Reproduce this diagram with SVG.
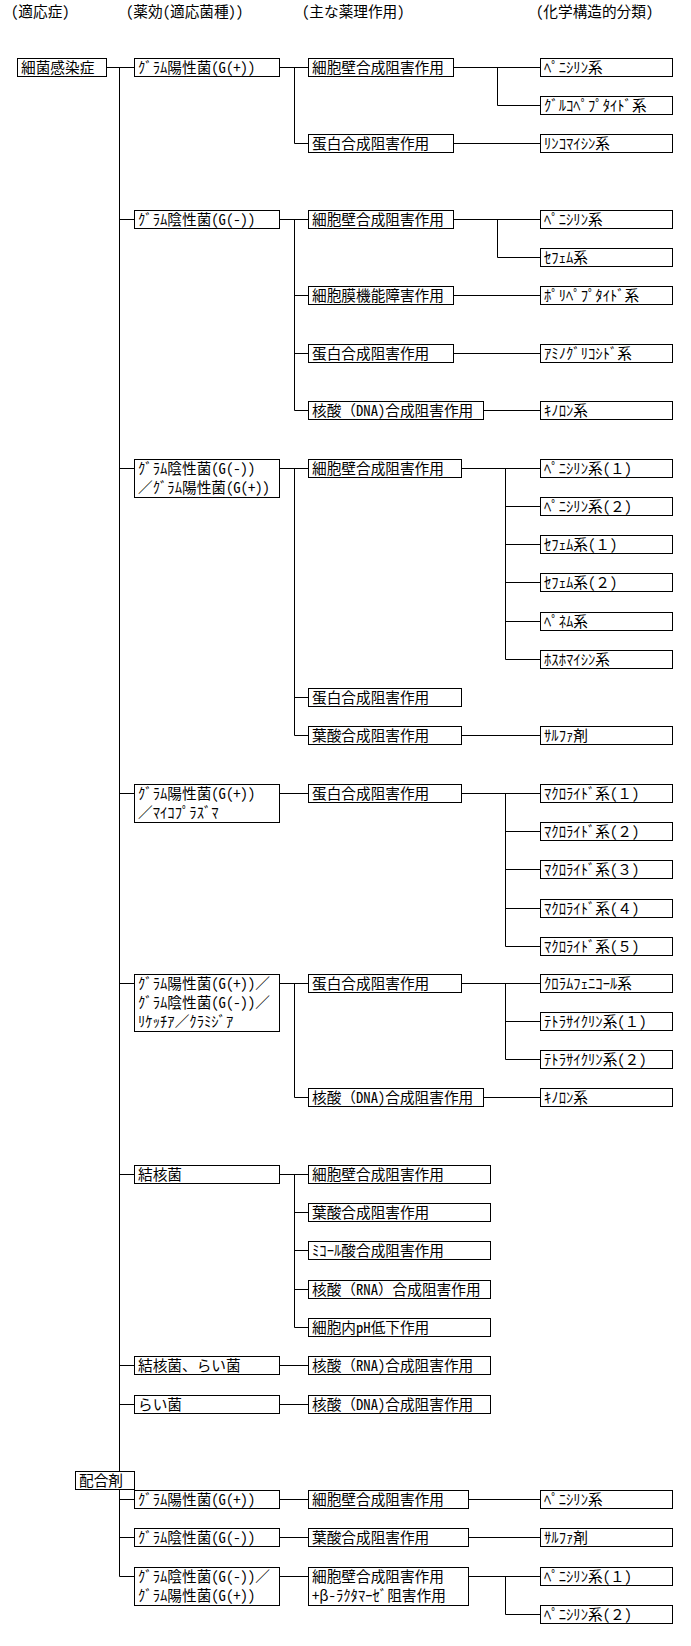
<svg xmlns="http://www.w3.org/2000/svg" width="691" height="1646" viewBox="0 0 691 1646">
<style>
.b{fill:#fff;stroke:#000;stroke-width:1}
.t{font-family:"Noto Sans Mono CJK JP","Noto Sans CJK JP","DejaVu Sans",sans-serif;font-size:14.67px;fill:#000}
.c{fill:none;stroke:#000;stroke-width:1}
</style>
<rect width="691" height="1646" fill="#fff"/>
<g id="headers" class="t">
<text x="11" y="17">(適応症)</text>
<text x="126" y="17">(薬効(適応菌種))</text>
<text x="302" y="17">(主な薬理作用)</text>
<text x="536" y="17">(化学構造的分類)</text>
</g>
<g id="connectors" class="c">
<path d="M106.5 67.5H134.5M119.5 67.5V1576.5M119.5 219.5H134.5M119.5 468.5H134.5M119.5 793.5H134.5M119.5 983.5H134.5M119.5 1174.5H134.5M119.5 1365.5H134.5M119.5 1404.5H134.5M119.5 1499.5H134.5M119.5 1537.5H134.5M119.5 1576.5H134.5"/>
<path d="M279.5 67.5H308.5M279.5 219.5H308.5M279.5 468.5H308.5M279.5 793.5H308.5M279.5 983.5H308.5M279.5 1174.5H308.5M279.5 1365.5H308.5M279.5 1404.5H308.5M279.5 1499.5H308.5M279.5 1537.5H308.5M279.5 1576.5H308.5"/>
<path d="M294.5 67.5V143.5H308.5M294.5 219.5V410.5H308.5M294.5 295.5H308.5M294.5 353.5H308.5M294.5 468.5V735.5H308.5M294.5 697.5H308.5M294.5 983.5V1097.5H308.5M294.5 1174.5V1327.5H308.5M294.5 1212.5H308.5M294.5 1250.5H308.5M294.5 1289.5H308.5"/>
<path d="M453.5 67.5H540.5M497.5 67.5V105.5H540.5M453.5 143.5H540.5"/>
<path d="M453.5 219.5H540.5M497.5 219.5V257.5H540.5M453.5 295.5H540.5M453.5 353.5H540.5M483.5 410.5H540.5"/>
<path d="M461.5 468.5H540.5M505.5 468.5V659.5H540.5M505.5 506.5H540.5M505.5 544.5H540.5M505.5 582.5H540.5M505.5 621.5H540.5M461.5 735.5H540.5"/>
<path d="M461.5 793.5H540.5M505.5 793.5V946.5H540.5M505.5 831.5H540.5M505.5 869.5H540.5M505.5 908.5H540.5"/>
<path d="M461.5 983.5H540.5M505.5 983.5V1059.5H540.5M505.5 1021.5H540.5M483.5 1097.5H540.5"/>
<path d="M468.5 1499.5H540.5M468.5 1537.5H540.5M468.5 1576.5H540.5M505.5 1576.5V1614.5H540.5"/>
</g>
<g id="n0"><rect class="b" x="17.5" y="58.5" width="89" height="18"/><text class="t" x="21" y="72.5">細菌感染症</text></g>
<g id="a1"><rect class="b" x="134.5" y="58.5" width="145" height="18"/><text class="t" x="138" y="72.5">ｸﾞﾗﾑ陽性菌(G(+))</text></g>
<g id="a2"><rect class="b" x="134.5" y="210.5" width="145" height="18"/><text class="t" x="138" y="224.5">ｸﾞﾗﾑ陰性菌(G(-))</text></g>
<g id="a3"><rect class="b" x="134.5" y="459.5" width="145" height="38"/><text class="t" x="138" y="473.5">ｸﾞﾗﾑ陰性菌(G(-))</text><text class="t" x="138" y="492.5">／ｸﾞﾗﾑ陽性菌(G(+))</text></g>
<g id="a4"><rect class="b" x="134.5" y="784.5" width="145" height="38"/><text class="t" x="138" y="798.5">ｸﾞﾗﾑ陽性菌(G(+))</text><text class="t" x="138" y="817.5">／ﾏｲｺﾌﾟﾗｽﾞﾏ</text></g>
<g id="a5"><rect class="b" x="134.5" y="974.5" width="145" height="57"/><text class="t" x="138" y="988.5">ｸﾞﾗﾑ陽性菌(G(+))／</text><text class="t" x="138" y="1007.5">ｸﾞﾗﾑ陰性菌(G(-))／</text><text class="t" x="138" y="1026.5">ﾘｹｯﾁｱ／ｸﾗﾐｼﾞｱ</text></g>
<g id="a6"><rect class="b" x="134.5" y="1165.5" width="145" height="18"/><text class="t" x="138" y="1179.5">結核菌</text></g>
<g id="a7"><rect class="b" x="134.5" y="1356.5" width="145" height="18"/><text class="t" x="138" y="1370.5">結核菌、らい菌</text></g>
<g id="a8"><rect class="b" x="134.5" y="1395.5" width="145" height="18"/><text class="t" x="138" y="1409.5">らい菌</text></g>
<g id="m0"><rect class="b" x="75.5" y="1471.5" width="59" height="18"/><text class="t" x="79" y="1485.5">配合剤</text></g>
<g id="m1"><rect class="b" x="134.5" y="1490.5" width="145" height="18"/><text class="t" x="138" y="1504.5">ｸﾞﾗﾑ陽性菌(G(+))</text></g>
<g id="m2"><rect class="b" x="134.5" y="1528.5" width="145" height="18"/><text class="t" x="138" y="1542.5">ｸﾞﾗﾑ陰性菌(G(-))</text></g>
<g id="m3"><rect class="b" x="134.5" y="1567.5" width="145" height="38"/><text class="t" x="138" y="1581.5">ｸﾞﾗﾑ陰性菌(G(-))／</text><text class="t" x="138" y="1600.5">ｸﾞﾗﾑ陽性菌(G(+))</text></g>
<g id="b1"><rect class="b" x="308.5" y="58.5" width="145" height="18"/><text class="t" x="312" y="72.5">細胞壁合成阻害作用</text></g>
<g id="b2"><rect class="b" x="308.5" y="134.5" width="145" height="18"/><text class="t" x="312" y="148.5">蛋白合成阻害作用</text></g>
<g id="b3"><rect class="b" x="308.5" y="210.5" width="145" height="18"/><text class="t" x="312" y="224.5">細胞壁合成阻害作用</text></g>
<g id="b4"><rect class="b" x="308.5" y="286.5" width="145" height="18"/><text class="t" x="312" y="300.5">細胞膜機能障害作用</text></g>
<g id="b5"><rect class="b" x="308.5" y="344.5" width="145" height="18"/><text class="t" x="312" y="358.5">蛋白合成阻害作用</text></g>
<g id="b6"><rect class="b" x="308.5" y="401.5" width="175" height="18"/><text class="t" x="312" y="415.5">核酸（DNA)合成阻害作用</text></g>
<g id="b7"><rect class="b" x="308.5" y="459.5" width="153" height="18"/><text class="t" x="312" y="473.5">細胞壁合成阻害作用</text></g>
<g id="b8"><rect class="b" x="308.5" y="688.5" width="153" height="18"/><text class="t" x="312" y="702.5">蛋白合成阻害作用</text></g>
<g id="b9"><rect class="b" x="308.5" y="726.5" width="153" height="18"/><text class="t" x="312" y="740.5">葉酸合成阻害作用</text></g>
<g id="b10"><rect class="b" x="308.5" y="784.5" width="153" height="18"/><text class="t" x="312" y="798.5">蛋白合成阻害作用</text></g>
<g id="b11"><rect class="b" x="308.5" y="974.5" width="153" height="18"/><text class="t" x="312" y="988.5">蛋白合成阻害作用</text></g>
<g id="b12"><rect class="b" x="308.5" y="1088.5" width="175" height="18"/><text class="t" x="312" y="1102.5">核酸（DNA)合成阻害作用</text></g>
<g id="b13"><rect class="b" x="308.5" y="1165.5" width="182" height="18"/><text class="t" x="312" y="1179.5">細胞壁合成阻害作用</text></g>
<g id="b14"><rect class="b" x="308.5" y="1203.5" width="182" height="18"/><text class="t" x="312" y="1217.5">葉酸合成阻害作用</text></g>
<g id="b15"><rect class="b" x="308.5" y="1241.5" width="182" height="18"/><text class="t" x="312" y="1255.5">ﾐｺｰﾙ酸合成阻害作用</text></g>
<g id="b16"><rect class="b" x="308.5" y="1280.5" width="182" height="18"/><text class="t" x="312" y="1294.5">核酸（RNA）合成阻害作用</text></g>
<g id="b17"><rect class="b" x="308.5" y="1318.5" width="182" height="18"/><text class="t" x="312" y="1332.5">細胞内pH低下作用</text></g>
<g id="b18"><rect class="b" x="308.5" y="1356.5" width="182" height="18"/><text class="t" x="312" y="1370.5">核酸（RNA)合成阻害作用</text></g>
<g id="b19"><rect class="b" x="308.5" y="1395.5" width="182" height="18"/><text class="t" x="312" y="1409.5">核酸（DNA)合成阻害作用</text></g>
<g id="b20"><rect class="b" x="308.5" y="1490.5" width="160" height="18"/><text class="t" x="312" y="1504.5">細胞壁合成阻害作用</text></g>
<g id="b21"><rect class="b" x="308.5" y="1528.5" width="160" height="18"/><text class="t" x="312" y="1542.5">葉酸合成阻害作用</text></g>
<g id="b22"><rect class="b" x="308.5" y="1567.5" width="160" height="38"/><text class="t" x="312" y="1581.5">細胞壁合成阻害作用</text><text class="t" x="312" y="1600.5">+β-ﾗｸﾀﾏｰｾﾞ阻害作用</text></g>
<g id="c1"><rect class="b" x="540.5" y="58.5" width="132" height="18"/><text class="t" x="544" y="72.5">ﾍﾟﾆｼﾘﾝ系</text></g>
<g id="c2"><rect class="b" x="540.5" y="96.5" width="132" height="18"/><text class="t" x="544" y="110.5">ｸﾞﾙｺﾍﾟﾌﾟﾀｲﾄﾞ系</text></g>
<g id="c3"><rect class="b" x="540.5" y="134.5" width="132" height="18"/><text class="t" x="544" y="148.5">ﾘﾝｺﾏｲｼﾝ系</text></g>
<g id="c4"><rect class="b" x="540.5" y="210.5" width="132" height="18"/><text class="t" x="544" y="224.5">ﾍﾟﾆｼﾘﾝ系</text></g>
<g id="c5"><rect class="b" x="540.5" y="248.5" width="132" height="18"/><text class="t" x="544" y="262.5">ｾﾌｪﾑ系</text></g>
<g id="c6"><rect class="b" x="540.5" y="286.5" width="132" height="18"/><text class="t" x="544" y="300.5">ﾎﾟﾘﾍﾟﾌﾟﾀｲﾄﾞ系</text></g>
<g id="c7"><rect class="b" x="540.5" y="344.5" width="132" height="18"/><text class="t" x="544" y="358.5">ｱﾐﾉｸﾞﾘｺｼﾄﾞ系</text></g>
<g id="c8"><rect class="b" x="540.5" y="401.5" width="132" height="18"/><text class="t" x="544" y="415.5">ｷﾉﾛﾝ系</text></g>
<g id="c9"><rect class="b" x="540.5" y="459.5" width="132" height="18"/><text class="t" x="544" y="473.5">ﾍﾟﾆｼﾘﾝ系(１)</text></g>
<g id="c10"><rect class="b" x="540.5" y="497.5" width="132" height="18"/><text class="t" x="544" y="511.5">ﾍﾟﾆｼﾘﾝ系(２)</text></g>
<g id="c11"><rect class="b" x="540.5" y="535.5" width="132" height="18"/><text class="t" x="544" y="549.5">ｾﾌｪﾑ系(１)</text></g>
<g id="c12"><rect class="b" x="540.5" y="573.5" width="132" height="18"/><text class="t" x="544" y="587.5">ｾﾌｪﾑ系(２)</text></g>
<g id="c13"><rect class="b" x="540.5" y="612.5" width="132" height="18"/><text class="t" x="544" y="626.5">ﾍﾟﾈﾑ系</text></g>
<g id="c14"><rect class="b" x="540.5" y="650.5" width="132" height="18"/><text class="t" x="544" y="664.5">ﾎｽﾎﾏｲｼﾝ系</text></g>
<g id="c15"><rect class="b" x="540.5" y="726.5" width="132" height="18"/><text class="t" x="544" y="740.5">ｻﾙﾌｧ剤</text></g>
<g id="c16"><rect class="b" x="540.5" y="784.5" width="132" height="18"/><text class="t" x="544" y="798.5">ﾏｸﾛﾗｲﾄﾞ系(１)</text></g>
<g id="c17"><rect class="b" x="540.5" y="822.5" width="132" height="18"/><text class="t" x="544" y="836.5">ﾏｸﾛﾗｲﾄﾞ系(２)</text></g>
<g id="c18"><rect class="b" x="540.5" y="860.5" width="132" height="18"/><text class="t" x="544" y="874.5">ﾏｸﾛﾗｲﾄﾞ系(３)</text></g>
<g id="c19"><rect class="b" x="540.5" y="899.5" width="132" height="18"/><text class="t" x="544" y="913.5">ﾏｸﾛﾗｲﾄﾞ系(４)</text></g>
<g id="c20"><rect class="b" x="540.5" y="937.5" width="132" height="18"/><text class="t" x="544" y="951.5">ﾏｸﾛﾗｲﾄﾞ系(５)</text></g>
<g id="c21"><rect class="b" x="540.5" y="974.5" width="132" height="18"/><text class="t" x="544" y="988.5">ｸﾛﾗﾑﾌｪﾆｺｰﾙ系</text></g>
<g id="c22"><rect class="b" x="540.5" y="1012.5" width="132" height="18"/><text class="t" x="544" y="1026.5">ﾃﾄﾗｻｲｸﾘﾝ系(１)</text></g>
<g id="c23"><rect class="b" x="540.5" y="1050.5" width="132" height="18"/><text class="t" x="544" y="1064.5">ﾃﾄﾗｻｲｸﾘﾝ系(２)</text></g>
<g id="c24"><rect class="b" x="540.5" y="1088.5" width="132" height="18"/><text class="t" x="544" y="1102.5">ｷﾉﾛﾝ系</text></g>
<g id="c25"><rect class="b" x="540.5" y="1490.5" width="132" height="18"/><text class="t" x="544" y="1504.5">ﾍﾟﾆｼﾘﾝ系</text></g>
<g id="c26"><rect class="b" x="540.5" y="1528.5" width="132" height="18"/><text class="t" x="544" y="1542.5">ｻﾙﾌｧ剤</text></g>
<g id="c27"><rect class="b" x="540.5" y="1567.5" width="132" height="18"/><text class="t" x="544" y="1581.5">ﾍﾟﾆｼﾘﾝ系(１)</text></g>
<g id="c28"><rect class="b" x="540.5" y="1605.5" width="132" height="18"/><text class="t" x="544" y="1619.5">ﾍﾟﾆｼﾘﾝ系(２)</text></g>
</svg>
